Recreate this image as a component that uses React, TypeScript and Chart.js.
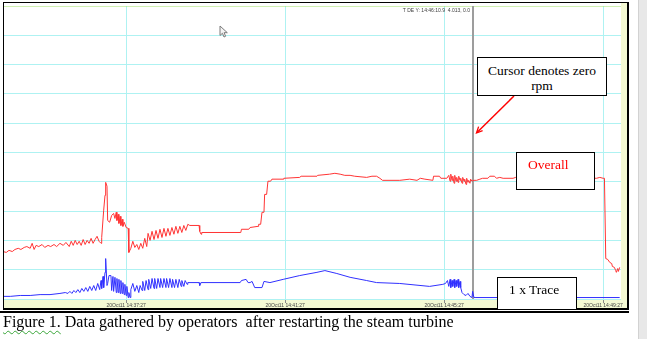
import React, { useEffect, useRef } from 'react';
import { Chart, registerables } from 'chart.js';

Chart.register(...registerables);

// Elapsed seconds since 14:34:21 (start of the record)
const recordStartClock = 14 * 3600 + 34 * 60 + 21;

const tickTimes = [186, 426, 666, 906];
const tickLabels = ['20Oct11 14:37:27', '20Oct11 14:41:27', '20Oct11 14:45:27', '20Oct11 14:49:27'];

const cursorTime = 709.9;
const cursorReadout = ['4.013', '0.0'];

const overallTime = [
  0, 5, 9, 14, 18, 23, 27, 32, 36, 41,
  44, 47, 50, 54, 59, 63, 68, 72, 77, 81,
  86, 91, 95, 100, 103, 106, 109, 112, 115, 118,
  121, 124, 127, 130, 133, 136, 139, 142, 145, 148,
  149, 152, 154, 155, 157, 158, 161, 164, 167, 169,
  171, 172, 174, 175, 177, 178, 180, 181, 183, 186,
  189, 190, 193, 196, 199, 202, 205, 208, 211, 214,
  217, 219, 222, 225, 228, 231, 234, 237, 240, 243,
  246, 249, 252, 255, 258, 261, 264, 267, 270, 273,
  276, 279, 282, 296, 297, 299, 300, 359, 360, 371,
  373, 385, 386, 389, 391, 394, 395, 398, 400, 404,
  406, 423, 424, 448, 450, 474, 475, 493, 501, 509,
  516, 524, 531, 549, 557, 564, 569, 573, 599, 614,
  625, 630, 637, 649, 650, 659, 661, 670, 673, 675,
  676, 678, 679, 681, 682, 684, 685, 687, 688, 690,
  691, 693, 694, 696, 697, 699, 700, 702, 703, 705,
  706, 708, 711, 715, 720, 724, 732, 735, 742, 745,
  750, 755, 770, 774, 841, 896, 901, 906, 908, 910,
  913, 916, 919, 920, 923, 925, 926, 928, 929, 931,
];
const overallValue = [
  1.62, 1.59, 1.66, 1.62, 1.69, 1.73, 1.69, 1.76, 1.79, 1.73,
  1.90, 1.69, 1.83, 1.79, 1.86, 1.76, 1.83, 1.79, 1.86, 1.79,
  1.90, 1.83, 1.93, 1.79, 1.97, 1.83, 2.00, 1.86, 1.97, 1.83,
  2.03, 1.86, 2.00, 1.90, 2.07, 1.90, 2.03, 2.14, 1.97, 1.90,
  2.10, 3.03, 3.54, 3.98, 3.85, 2.68, 2.62, 2.85, 2.92, 2.75,
  2.96, 2.68, 2.89, 2.58, 2.82, 2.51, 2.72, 2.48, 2.62, 2.44,
  2.41, 1.59, 1.73, 1.97, 1.76, 1.86, 1.69, 1.90, 1.73, 2.07,
  1.79, 2.24, 2.00, 2.31, 2.03, 2.34, 2.07, 2.38, 2.10, 2.41,
  2.14, 2.41, 2.17, 2.44, 2.21, 2.48, 2.24, 2.48, 2.27, 2.51,
  2.34, 2.55, 2.51, 2.51, 2.31, 2.21, 2.27, 2.27, 2.38, 2.38,
  2.44, 2.48, 2.55, 2.55, 2.96, 2.96, 3.57, 3.57, 4.02, 4.02,
  4.09, 4.09, 4.12, 4.15, 4.19, 4.19, 4.22, 4.26, 4.29, 4.26,
  4.22, 4.22, 4.19, 4.15, 4.19, 4.19, 4.12, 4.05, 4.05, 4.09,
  4.05, 4.12, 4.09, 4.05, 4.19, 4.19, 4.12, 4.12, 4.22, 4.02,
  4.26, 4.05, 4.19, 3.95, 4.22, 4.02, 4.15, 3.98, 4.19, 4.05,
  4.12, 3.95, 4.15, 4.02, 4.09, 3.91, 4.12, 3.98, 4.05, 3.95,
  4.09, 4.02, 4.05, 4.05, 4.09, 4.12, 4.12, 4.19, 4.19, 4.12,
  4.15, 4.12, 4.12, 4.15, 4.15, 4.12, 4.15, 4.12, 4.12, 1.38,
  1.35, 1.25, 1.21, 1.11, 1.08, 0.97, 0.91, 1.04, 0.94, 1.08,
];

const traceTime = [
  0, 11, 26, 41, 56, 71, 86, 94, 98, 101,
  104, 107, 110, 113, 116, 119, 122, 125, 128, 131,
  134, 137, 140, 143, 146, 148, 149, 151, 152, 154,
  155, 157, 158, 160, 163, 164, 166, 167, 169, 171,
  172, 174, 175, 177, 178, 180, 181, 183, 184, 186,
  187, 189, 190, 192, 193, 196, 199, 202, 205, 207,
  210, 211, 214, 216, 219, 220, 223, 225, 228, 229,
  232, 234, 237, 238, 241, 243, 246, 247, 250, 252,
  255, 256, 259, 261, 264, 266, 269, 270, 273, 275,
  278, 279, 296, 297, 299, 358, 360, 367, 370, 373,
  376, 380, 391, 394, 403, 423, 448, 474, 486, 504,
  524, 549, 564, 599, 644, 664, 668, 671, 673, 675,
  676, 678, 679, 681, 682, 684, 685, 687, 688, 690,
  691, 693, 696, 699, 702, 705, 708, 709, 711, 714,
  931,
];
const traceValue = [
  0.09, 0.09, 0.12, 0.12, 0.15, 0.15, 0.19, 0.22, 0.19, 0.26,
  0.19, 0.29, 0.22, 0.32, 0.22, 0.36, 0.26, 0.39, 0.26, 0.43,
  0.29, 0.46, 0.29, 0.53, 0.32, 0.63, 0.36, 0.77, 0.39, 0.91,
  1.38, 0.46, 0.53, 0.80, 0.80, 0.29, 0.77, 0.26, 0.74, 0.22,
  0.70, 0.22, 0.67, 0.19, 0.63, 0.19, 0.56, 0.15, 0.50, 0.12,
  0.43, 0.05, 0.22, 0.05, 0.32, 0.53, 0.26, 0.46, 0.22, 0.46,
  0.29, 0.60, 0.29, 0.63, 0.32, 0.67, 0.36, 0.70, 0.36, 0.70,
  0.36, 0.70, 0.39, 0.70, 0.39, 0.70, 0.39, 0.70, 0.39, 0.70,
  0.39, 0.67, 0.39, 0.67, 0.39, 0.67, 0.43, 0.63, 0.43, 0.63,
  0.50, 0.56, 0.56, 0.46, 0.56, 0.56, 0.63, 0.67, 0.56, 0.56,
  0.60, 0.39, 0.39, 0.60, 0.56, 0.67, 0.80, 0.91, 0.97, 0.87,
  0.74, 0.63, 0.56, 0.53, 0.43, 0.50, 0.53, 0.63, 0.43, 0.67,
  0.39, 0.63, 0.43, 0.67, 0.39, 0.63, 0.43, 0.67, 0.39, 0.60,
  0.39, 0.22, 0.15, 0.12, 0.19, 0.09, 0.05, 0.26, 0.05, 0.05,
  0.05,
];

const GRID = '#aef2f2';
const TOP_LINE = '#a2e466';
const BAND = '#f4f9d3';
const SERIF = '"Liberation Serif", "Times New Roman", serif';
const SANS = '"Liberation Sans", Arial, sans-serif';

function pairs(t: number[], v: number[]) {
  const n = Math.min(t.length, v.length);
  const out: { x: number; y: number }[] = [];
  for (let i = 0; i < n; i++) out.push({ x: t[i], y: v[i] });
  return out;
}

function clock(sec: number) {
  const total = recordStartClock + sec;
  const h = Math.floor(total / 3600);
  const m = Math.floor((total % 3600) / 60);
  const s = total - h * 3600 - m * 60;
  const p = (n: number) => String(n).padStart(2, '0');
  const sInt = Math.floor(s);
  const frac = Math.round((s - sInt) * 10);
  return `${h}:${p(m)}:${p(sInt)}.${frac}`;
}

const cursorPlugin = {
  id: 'cursorLine',
  beforeDatasetsDraw(chart: any) {
    const { ctx, chartArea, scales } = chart;
    const px = Math.round(scales.x.getPixelForValue(cursorTime));
    ctx.save();
    ctx.fillStyle = '#9d9d9d';
    ctx.fillRect(px - 1, chartArea.top, 2, chartArea.bottom - chartArea.top);
    ctx.font = `5px ${SANS}`;
    ctx.fillStyle = '#404040';
    ctx.textAlign = 'right';
    ctx.textBaseline = 'middle';
    ctx.fillText(`T DE Y: ${clock(cursorTime)}  ${cursorReadout[0]}, ${cursorReadout[1]}`, px - 3, chartArea.top + 5);
    ctx.restore();
  },
};

export default function App() {
  const canvasRef = useRef<HTMLCanvasElement | null>(null);

  useEffect(() => {
    if (!canvasRef.current) return;
    const chart = new Chart(canvasRef.current, {
      type: 'line',
      data: {
        datasets: [
          {
            label: 'Overall',
            data: pairs(overallTime, overallValue),
            borderColor: '#ff3434',
            borderWidth: 1,
            pointRadius: 0,
            tension: 0,
            fill: false,
          },
          {
            label: '1 x Trace',
            data: pairs(traceTime, traceValue),
            borderColor: '#3030ff',
            borderWidth: 1,
            pointRadius: 0,
            tension: 0,
            fill: false,
          },
        ],
      },
      options: {
        animation: false,
        responsive: false,
        events: [],
        layout: { padding: { left: 0, right: 9, top: 0, bottom: 0 } },
        plugins: { legend: { display: false }, tooltip: { enabled: false } },
        scales: {
          x: {
            type: 'linear',
            min: 0,
            max: 933,
            afterBuildTicks: (scale: any) => {
              scale.ticks = tickTimes.map((v) => ({ value: v }));
            },
            afterFit: (scale: any) => {
              scale.height = 10;
              scale.paddingLeft = 0;
              scale.paddingRight = 0;
            },
            ticks: {
              autoSkip: false,
              maxRotation: 0,
              minRotation: 0,
              padding: 0,
              color: '#444',
              font: { size: 5, family: SANS },
              callback: (value: any) => {
                const i = tickTimes.indexOf(Number(value));
                return i >= 0 ? tickLabels[i] : '';
              },
            },
            grid: { color: GRID, tickColor: '#8a8a8a', tickLength: 4, lineWidth: 1 },
            border: { display: false },
          },
          y: {
            min: 0,
            max: 10,
            ticks: { display: false, stepSize: 1 },
            grid: {
              drawTicks: false,
              color: (ctx: any) => (ctx.tick && ctx.tick.value === 10 ? TOP_LINE : GRID),
              lineWidth: (ctx: any) => (ctx.tick && ctx.tick.value === 10 ? 1.5 : 1),
            },
            border: { display: false },
            afterFit: (scale: any) => {
              scale.width = 0;
              scale.paddingTop = 0;
              scale.paddingBottom = 0;
            },
          },
        },
      },
      plugins: [cursorPlugin],
    });
    return () => chart.destroy();
  }, []);

  const abs = (s: React.CSSProperties): React.CSSProperties => ({ position: 'absolute', ...s });

  return (
    <div style={abs({ left: 0, top: 0, width: 647, height: 339, background: '#fff', overflow: 'hidden' })}>
      <div style={abs({ left: 638, top: 0, width: 9, height: 339, background: '#e8e8e8', borderLeft: '1px solid #d2d2d2' })} />
      <div style={abs({ left: 4, top: 299, width: 623, height: 10, background: BAND })} />
      <div style={abs({ left: 621, top: 3, width: 6, height: 306, background: BAND })} />
      <canvas ref={canvasRef} width={627} height={303} style={abs({ left: 3, top: 6, width: 627, height: 303 })} />
      <div
        style={abs({
          left: 3,
          top: 2,
          width: 623,
          height: 305,
          borderTop: '1px solid #000',
          borderLeft: '1px solid #000',
          borderRight: '2px solid #000',
          borderBottom: '2px solid #000',
        })}
      />
      <div style={abs({ left: 0, top: 311, width: 629, height: 2, background: '#000' })} />

      <svg width={647} height={339} style={abs({ left: 0, top: 0 })}>
        <polygon
          points="220,26 220,35.5 222.4,33.3 224,37 225.6,36.3 224.1,32.7 227.3,32.7"
          fill="#f4f4f4"
          stroke="#7a7a7a"
          strokeWidth={1}
          strokeLinejoin="round"
        />
        <line x1={514} y1={96} x2={477} y2={132.5} stroke="#ff0000" strokeWidth={1.5} />
        <polyline points="482.6,130.7 476.5,133 478.6,126.6" fill="none" stroke="#ff0000" strokeWidth={1.3} />
      </svg>

      <div
        style={abs({
          left: 477,
          top: 57,
          width: 130,
          height: 39,
          boxSizing: 'border-box',
          border: '1px solid #000',
          background: '#fff',
          font: `13.5px/15px ${SERIF}`,
          textAlign: 'center',
          paddingTop: 5,
          whiteSpace: 'nowrap',
          color: '#000',
        })}
      >
        Cursor denotes zero
        <br />
        rpm
      </div>
      <div
        style={abs({
          left: 516,
          top: 152,
          width: 79,
          height: 38,
          boxSizing: 'border-box',
          border: '1px solid #000',
          background: '#fff',
          font: `13.5px/17px ${SERIF}`,
          paddingTop: 3,
          paddingLeft: 11,
          whiteSpace: 'nowrap',
          color: '#ff0000',
        })}
      >
        Overall
      </div>
      <div
        style={abs({
          left: 497,
          top: 277,
          width: 80,
          height: 33,
          boxSizing: 'border-box',
          border: '1px solid #000',
          background: '#fff',
          font: `13.5px/17px ${SERIF}`,
          paddingTop: 3,
          paddingLeft: 11,
          whiteSpace: 'nowrap',
          color: '#000',
        })}
      >
        1 x Trace
      </div>

      <div style={abs({ left: 3, top: 313, font: `16px/18px ${SERIF}`, whiteSpace: 'nowrap', color: '#000' })}>
        <span
          style={{
            textDecorationLine: 'underline',
            textDecorationStyle: 'wavy',
            textDecorationColor: '#3aa63a',
            textDecorationThickness: '1px',
            textUnderlineOffset: '3px',
          }}
        >
          Figure 1.
        </span>{' '}
        Data gathered by operators&nbsp; after restarting the steam turbine
      </div>
    </div>
  );
}
